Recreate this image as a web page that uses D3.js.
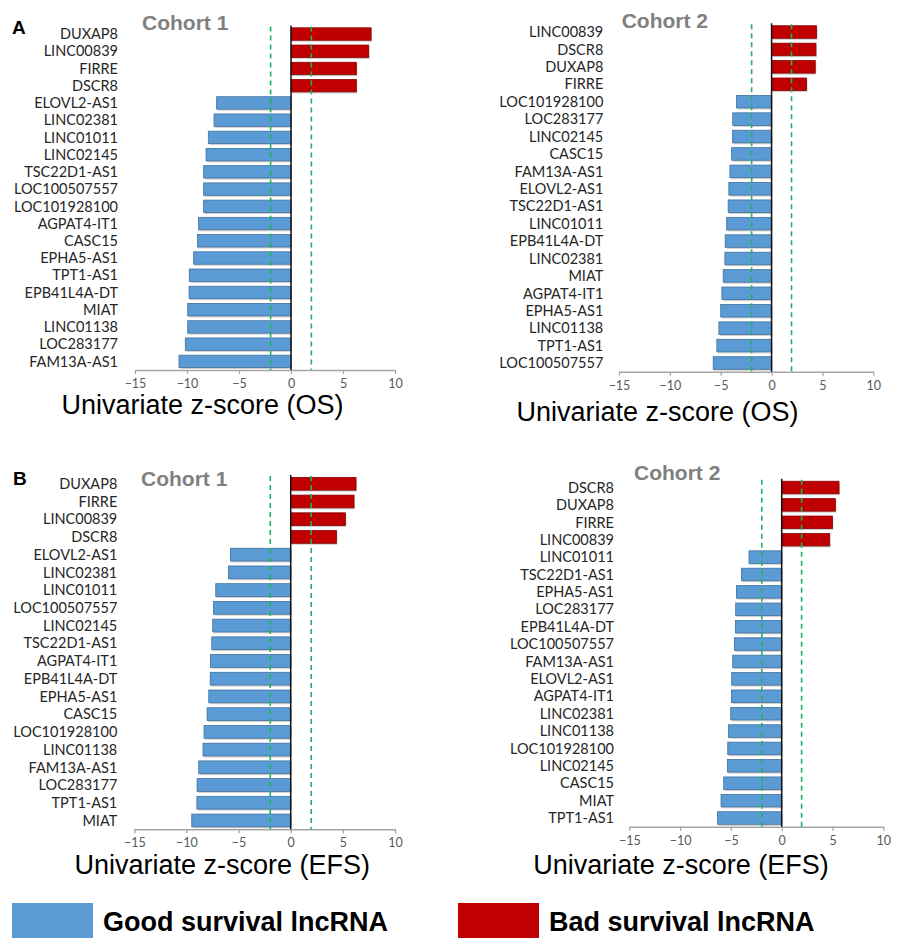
<!DOCTYPE html>
<html><head><meta charset="utf-8">
<script src="https://cdn.jsdelivr.net/npm/d3@7"></script>
<style>
html,body{margin:0;padding:0;background:#fff;}
svg{display:block;}
</style></head><body>
<svg id="chart" width="902" height="938"></svg>
<script>
// Shared axis settings
const tickValues = [-15, -10, -5, 0, 5, 10];
const zDomain = [-15, 10];
const threshold = 1.96;

// Overall survival, cohort 1
const genesOS1 = ["DUXAP8","LINC00839","FIRRE","DSCR8","ELOVL2-AS1","LINC02381","LINC01011","LINC02145","TSC22D1-AS1","LOC100507557","LOC101928100","AGPAT4-IT1","CASC15","EPHA5-AS1","TPT1-AS1","EPB41L4A-DT","MIAT","LINC01138","LOC283177","FAM13A-AS1"];
const zOS1 = [7.7,7.47,6.28,6.28,-7.15,-7.4,-7.95,-8.17,-8.4,-8.4,-8.4,-8.9,-9.0,-9.36,-9.78,-9.8,-9.93,-9.93,-10.16,-10.77];

// Overall survival, cohort 2
const genesOS2 = ["LINC00839","DSCR8","DUXAP8","FIRRE","LOC101928100","LOC283177","LINC02145","CASC15","FAM13A-AS1","ELOVL2-AS1","TSC22D1-AS1","LINC01011","EPB41L4A-DT","LINC02381","MIAT","AGPAT4-IT1","EPHA5-AS1","LINC01138","TPT1-AS1","LOC100507557"];
const zOS2 = [4.42,4.36,4.29,3.44,-3.44,-3.82,-3.84,-3.93,-4.1,-4.2,-4.27,-4.42,-4.56,-4.59,-4.76,-4.89,-5.0,-5.18,-5.38,-5.74];

// Event-free survival, cohort 1
const genesEFS1 = ["DUXAP8","FIRRE","LINC00839","DSCR8","ELOVL2-AS1","LINC02381","LINC01011","LOC100507557","LINC02145","TSC22D1-AS1","AGPAT4-IT1","EPB41L4A-DT","EPHA5-AS1","CASC15","LOC101928100","LINC01138","FAM13A-AS1","LOC283177","TPT1-AS1","MIAT"];
const zEFS1 = [6.26,6.07,5.24,4.38,-5.78,-5.97,-7.19,-7.41,-7.48,-7.57,-7.7,-7.72,-7.86,-8.02,-8.31,-8.41,-8.82,-8.98,-9.0,-9.49];

// Event-free survival, cohort 2
const genesEFS2 = ["DSCR8","DUXAP8","FIRRE","LINC00839","LINC01011","TSC22D1-AS1","EPHA5-AS1","LOC283177","EPB41L4A-DT","LOC100507557","FAM13A-AS1","ELOVL2-AS1","AGPAT4-IT1","LINC02381","LINC01138","LOC101928100","LINC02145","CASC15","MIAT","TPT1-AS1"];
const zEFS2 = [5.64,5.28,4.99,4.72,-3.22,-3.97,-4.46,-4.53,-4.56,-4.66,-4.82,-4.92,-4.95,-5.02,-5.25,-5.31,-5.35,-5.71,-5.97,-6.33];

const legendLabels = ["Good survival lncRNA", "Bad survival lncRNA"];

const GOOD = "#5b9bd5", GOOD_EDGE = "#41719c";
const BAD = "#c00000", BAD_EDGE = "#8a0000";

const svg = d3.select("#chart");

const panels = [
  {genes: genesOS1, z: zOS1, cohort: "Cohort 1", title: "Univariate z-score (OS)", letter: "A",
   xr: [135, 395], top: 25.4, axisY: 370, labelX: 118, cohortX: 142, cohortY: 30, titleX: 202.5, titleY: 414, letterX: 12, letterY: 34},
  {genes: genesOS2, z: zOS2, cohort: "Cohort 2", title: "Univariate z-score (OS)",
   xr: [619, 873.3], top: 23.3, axisY: 371.7, labelX: 603.3, cohortX: 621.7, cohortY: 28.3, titleX: 657.5, titleY: 421},
  {genes: genesEFS1, z: zEFS1, cohort: "Cohort 1", title: "Univariate z-score (EFS)", letter: "B",
   xr: [134.3, 395], top: 474.9, axisY: 829.3, labelX: 117.3, cohortX: 141, cohortY: 485.7, titleX: 222.3, titleY: 874, letterX: 13, letterY: 485},
  {genes: genesEFS2, z: zEFS2, cohort: "Cohort 2", title: "Univariate z-score (EFS)",
   xr: [629.3, 883.3], top: 478.8, axisY: 826.7, labelX: 614, cohortX: 634, cohortY: 480, titleX: 681, titleY: 874}
];

panels.forEach(p => {
  const g = svg.append("g");
  const data = p.genes.map((name, i) => ({name, value: p.z[i]}));
  const x = d3.scaleLinear().domain(zDomain).range(p.xr);
  const y = d3.scaleBand().domain(p.genes).range([p.top, p.axisY]).paddingInner(0.28).paddingOuter(0.14);

  // axis
  const ax = g.append("g").attr("transform", `translate(0,${p.axisY})`)
    .call(d3.axisBottom(x).tickValues(tickValues).tickSize(4).tickPadding(5).tickSizeOuter(0));
  ax.select(".domain").attr("stroke", "#a6a6a6").attr("stroke-width", 1.5);
  ax.selectAll(".tick line").attr("stroke", "#a6a6a6").attr("stroke-width", 1.3);
  ax.selectAll(".tick text").attr("fill", "#595959").style("font-family", "Lato, 'Open Sans', sans-serif").style("font-size", "12.5px");

  // bar shadows
  g.selectAll("rect.shadow").data(data).join("rect").attr("class", "shadow")
    .attr("x", d => x(Math.min(0, d.value)) + 1)
    .attr("y", d => y(d.name) + 1.5)
    .attr("width", d => Math.abs(x(d.value) - x(0)))
    .attr("height", y.bandwidth())
    .attr("fill", "#cfcfcf");

  // bars
  g.selectAll("rect.bar").data(data).join("rect").attr("class", "bar")
    .attr("x", d => x(Math.min(0, d.value)))
    .attr("y", d => y(d.name))
    .attr("width", d => Math.abs(x(d.value) - x(0)))
    .attr("height", y.bandwidth())
    .attr("fill", d => d.value < 0 ? GOOD : BAD)
    .attr("stroke", d => d.value < 0 ? GOOD_EDGE : BAD_EDGE)
    .attr("stroke-width", 0.8);

  // significance thresholds
  [-threshold, threshold].forEach(t => {
    g.append("line")
      .attr("x1", x(t)).attr("x2", x(t))
      .attr("y1", p.top + 1).attr("y2", p.axisY)
      .attr("stroke", "#1fb35a").attr("stroke-width", 1.6)
      .attr("stroke-dasharray", "5,4");
  });

  // zero line
  g.append("line")
    .attr("x1", x(0)).attr("x2", x(0))
    .attr("y1", p.top).attr("y2", p.axisY)
    .attr("stroke", "#111").attr("stroke-width", 1.5);

  // gene labels
  g.selectAll("text.gene").data(data).join("text").attr("class", "gene")
    .attr("x", p.labelX)
    .attr("y", d => y(d.name) + y.bandwidth() / 2)
    .attr("dy", "0.36em")
    .attr("text-anchor", "end")
    .attr("fill", "#262626")
    .style("font-family", "Lato, 'Open Sans', sans-serif")
    .style("font-size", "14.5px")
    .text(d => d.name);

  // cohort heading
  g.append("text")
    .attr("x", p.cohortX).attr("y", p.cohortY)
    .attr("fill", "#808080")
    .style("font-family", "'Liberation Sans', Arial, sans-serif")
    .style("font-weight", "bold").style("font-size", "21px")
    .text(p.cohort);

  // axis title
  g.append("text")
    .attr("x", p.titleX).attr("y", p.titleY)
    .attr("text-anchor", "middle")
    .attr("fill", "#000")
    .style("font-family", "'Liberation Sans', Arial, sans-serif")
    .style("font-size", "27px")
    .text(p.title);

  if (p.letter) {
    g.append("text")
      .attr("x", p.letterX).attr("y", p.letterY)
      .attr("fill", "#000")
      .style("font-family", "'Liberation Sans', Arial, sans-serif")
      .style("font-weight", "bold").style("font-size", "19px")
      .text(p.letter);
  }
});

// legend
const legend = svg.append("g");
const legendItems = [
  {label: legendLabels[0], color: GOOD, x: 12},
  {label: legendLabels[1], color: BAD, x: 458}
];
legendItems.forEach(it => {
  legend.append("rect").attr("x", it.x).attr("y", 903).attr("width", 81).attr("height", 40).attr("fill", it.color);
  legend.append("text").attr("x", it.x + 91).attr("y", 931)
    .style("font-family", "'Liberation Sans', Arial, sans-serif")
    .style("font-weight", "bold").style("font-size", "27px")
    .attr("fill", "#000")
    .text(it.label);
});
</script>
</body></html>
